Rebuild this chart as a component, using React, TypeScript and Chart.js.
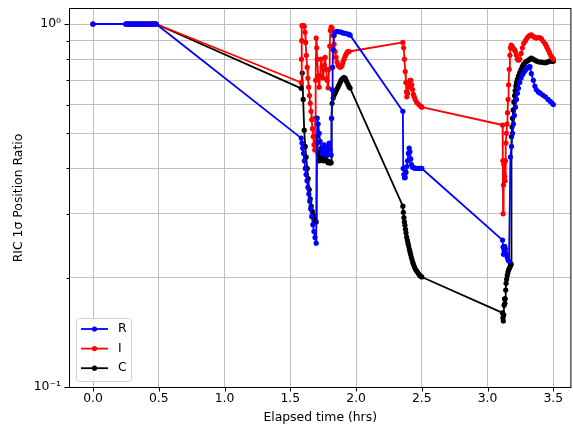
import { useEffect, useRef } from "react";
import { Chart, registerables } from "chart.js";

Chart.register(...registerables);

const FONT = "DejaVu Sans";

const xTickValues = [0, 0.5, 1.0, 1.5, 2.0, 2.5, 3.0, 3.5];
const yTickValues = [0.1, 0.2, 0.3, 0.4, 0.5, 0.6, 0.7, 0.8, 0.9, 1.0];
const yMajorLabels: Record<string, string> = { "0.1": "10⁻¹", "1": "10⁰" };

const seriesNames = ["R", "I", "C"];
const seriesColors = ["#0000ff", "#ff0000", "#000000"];

const xLabel = "Elapsed time (hrs)";
const yLabel = "RIC 1σ Position Ratio";

// shared start: all three ratios are 1.0 early on
const commonStart: number[][] = [
  [0, 1], [0.25, 1], [0.26, 1], [0.27, 1], [0.28, 1], [0.29, 1], [0.3, 1], [0.31, 1],
  [0.32, 1], [0.33, 1], [0.34, 1], [0.35, 1], [0.36, 1], [0.37, 1], [0.38, 1], [0.39, 1],
  [0.4, 1], [0.41, 1], [0.42, 1], [0.43, 1], [0.44, 1], [0.45, 1], [0.46, 1], [0.47, 1], [0.48, 1],
];

const seriesR: number[][] = [
  [1.583, 0.485], [1.589, 0.47], [1.595, 0.455], [1.601, 0.44], [1.607, 0.42], [1.614, 0.4],
  [1.62, 0.385], [1.627, 0.37], [1.634, 0.355], [1.641, 0.34], [1.648, 0.325], [1.655, 0.31],
  [1.663, 0.295], [1.672, 0.28], [1.68, 0.268], [1.688, 0.258], [1.697, 0.249],
  [1.705, 0.551], [1.712, 0.53], [1.72, 0.5], [1.727, 0.475], [1.735, 0.455], [1.742, 0.44],
  [1.75, 0.45], [1.758, 0.465], [1.765, 0.45], [1.773, 0.435], [1.78, 0.44], [1.788, 0.46],
  [1.795, 0.47], [1.803, 0.45], [1.811, 0.436], [1.814, 0.55], [1.818, 0.66], [1.822, 0.76],
  [1.826, 0.85], [1.833, 0.93], [1.841, 0.95], [1.856, 0.955], [1.871, 0.952], [1.886, 0.95],
  [1.901, 0.945], [1.916, 0.942], [1.932, 0.94], [1.947, 0.936], [1.955, 0.932],
  [2.356, 0.575], [2.359, 0.4], [2.364, 0.385], [2.369, 0.377], [2.374, 0.378], [2.38, 0.39],
  [2.386, 0.405], [2.392, 0.42], [2.398, 0.44], [2.404, 0.455], [2.41, 0.445], [2.416, 0.425],
  [2.422, 0.41], [2.43, 0.403], [2.44, 0.402], [2.45, 0.4], [2.462, 0.4], [2.477, 0.4],
  [2.492, 0.4], [2.5, 0.4],
  [3.114, 0.254], [3.118, 0.243], [3.121, 0.232], [3.126, 0.238], [3.131, 0.244], [3.136, 0.24],
  [3.142, 0.233], [3.149, 0.228], [3.156, 0.224], [3.163, 0.222],
  [3.174, 0.43], [3.182, 0.46], [3.19, 0.5], [3.197, 0.53], [3.204, 0.56], [3.212, 0.59],
  [3.22, 0.62], [3.227, 0.645], [3.235, 0.665], [3.245, 0.69], [3.255, 0.71], [3.265, 0.725],
  [3.275, 0.735], [3.285, 0.745], [3.295, 0.752], [3.305, 0.758], [3.315, 0.762], [3.323, 0.763],
  [3.333, 0.73], [3.348, 0.7], [3.36, 0.675], [3.37, 0.66], [3.386, 0.65], [3.4, 0.645],
  [3.42, 0.637], [3.44, 0.63], [3.46, 0.62], [3.477, 0.612], [3.49, 0.606], [3.5, 0.6],
];

const seriesI: number[][] = [
  [1.583, 0.69], [1.585, 0.8], [1.587, 0.9], [1.589, 0.99], [1.595, 0.99], [1.601, 0.99],
  [1.606, 0.985], [1.612, 0.95], [1.617, 0.89], [1.622, 0.82], [1.628, 0.76], [1.634, 0.71],
  [1.64, 0.67], [1.646, 0.635], [1.652, 0.605], [1.658, 0.575], [1.663, 0.545], [1.668, 0.515],
  [1.674, 0.49], [1.68, 0.465], [1.686, 0.45], [1.689, 0.55], [1.693, 0.7], [1.697, 0.915],
  [1.701, 0.86], [1.705, 0.8], [1.712, 0.72], [1.72, 0.67], [1.727, 0.72], [1.735, 0.8],
  [1.742, 0.76], [1.75, 0.71], [1.758, 0.77], [1.765, 0.81], [1.773, 0.75], [1.78, 0.7],
  [1.788, 0.667], [1.795, 0.75], [1.8, 0.87], [1.805, 0.96], [1.811, 0.98], [1.818, 0.975],
  [1.826, 0.93], [1.833, 0.88], [1.841, 0.84], [1.848, 0.81], [1.856, 0.785], [1.864, 0.77],
  [1.871, 0.765], [1.879, 0.76], [1.886, 0.762], [1.894, 0.77], [1.901, 0.785], [1.909, 0.8],
  [1.917, 0.815], [1.924, 0.825], [1.932, 0.835], [1.94, 0.84], [1.947, 0.84],
  [2.356, 0.89], [2.362, 0.86], [2.368, 0.8], [2.374, 0.74], [2.379, 0.69], [2.383, 0.65],
  [2.386, 0.63], [2.392, 0.645], [2.398, 0.67], [2.404, 0.69], [2.41, 0.7], [2.417, 0.7],
  [2.424, 0.68], [2.43, 0.66], [2.436, 0.64], [2.443, 0.63], [2.45, 0.62], [2.462, 0.608],
  [2.477, 0.6], [2.492, 0.594], [2.5, 0.59],
  [3.114, 0.527], [3.116, 0.42], [3.118, 0.3], [3.121, 0.36], [3.124, 0.41], [3.127, 0.42],
  [3.13, 0.38], [3.133, 0.37], [3.136, 0.42], [3.14, 0.47], [3.144, 0.5], [3.148, 0.53],
  [3.152, 0.57], [3.156, 0.62], [3.16, 0.68], [3.165, 0.75], [3.17, 0.82], [3.174, 0.86],
  [3.18, 0.875], [3.186, 0.87], [3.19, 0.86], [3.197, 0.855], [3.205, 0.85], [3.212, 0.84],
  [3.22, 0.82], [3.227, 0.8], [3.235, 0.795], [3.245, 0.8], [3.255, 0.83], [3.265, 0.86],
  [3.275, 0.885], [3.288, 0.9], [3.3, 0.915], [3.311, 0.925], [3.322, 0.93], [3.333, 0.933],
  [3.345, 0.925], [3.356, 0.92], [3.371, 0.915], [3.385, 0.918], [3.4, 0.916], [3.41, 0.91],
  [3.425, 0.895], [3.44, 0.88], [3.45, 0.865], [3.46, 0.85], [3.47, 0.835], [3.48, 0.82],
  [3.49, 0.81], [3.5, 0.8],
];

const seriesC: number[][] = [
  [1.583, 0.665], [1.591, 0.733], [1.598, 0.62], [1.606, 0.51], [1.614, 0.46], [1.621, 0.43],
  [1.629, 0.4], [1.636, 0.375], [1.644, 0.35], [1.652, 0.33], [1.659, 0.315], [1.667, 0.305],
  [1.674, 0.298], [1.682, 0.292], [1.69, 0.288], [1.697, 0.285],
  [1.7, 0.49], [1.705, 0.47], [1.712, 0.44], [1.72, 0.42], [1.727, 0.43], [1.735, 0.45],
  [1.742, 0.43], [1.75, 0.42], [1.758, 0.425], [1.765, 0.44], [1.773, 0.43], [1.78, 0.418],
  [1.788, 0.415], [1.795, 0.418], [1.803, 0.414], [1.811, 0.415],
  [1.814, 0.55], [1.818, 0.605], [1.826, 0.625], [1.833, 0.637], [1.841, 0.645], [1.848, 0.655],
  [1.856, 0.663], [1.864, 0.672], [1.871, 0.68], [1.879, 0.69], [1.886, 0.7], [1.894, 0.705],
  [1.901, 0.71], [1.909, 0.712], [1.917, 0.71], [1.924, 0.7], [1.932, 0.69], [1.94, 0.68],
  [1.947, 0.672], [1.955, 0.666],
  [2.356, 0.315], [2.36, 0.303], [2.364, 0.293], [2.368, 0.285], [2.372, 0.279], [2.376, 0.272],
  [2.38, 0.266], [2.385, 0.259], [2.39, 0.254], [2.395, 0.249], [2.4, 0.245], [2.405, 0.24],
  [2.41, 0.236], [2.415, 0.232], [2.42, 0.228], [2.426, 0.224], [2.432, 0.22], [2.438, 0.217],
  [2.445, 0.214], [2.452, 0.211], [2.46, 0.209], [2.468, 0.207], [2.476, 0.205], [2.484, 0.203],
  [2.492, 0.202], [2.5, 0.201],
  [3.114, 0.16], [3.117, 0.155], [3.12, 0.152], [3.123, 0.158], [3.126, 0.168], [3.129, 0.175],
  [3.132, 0.17], [3.135, 0.175], [3.138, 0.185], [3.141, 0.193], [3.145, 0.198], [3.15, 0.203],
  [3.155, 0.207], [3.16, 0.21], [3.165, 0.212], [3.17, 0.214], [3.175, 0.216], [3.18, 0.218],
  [3.182, 0.49], [3.186, 0.52], [3.19, 0.55], [3.195, 0.58], [3.2, 0.61], [3.205, 0.635],
  [3.21, 0.655], [3.215, 0.675], [3.22, 0.69], [3.227, 0.705], [3.235, 0.72], [3.245, 0.735],
  [3.255, 0.75], [3.265, 0.765], [3.275, 0.775], [3.288, 0.785], [3.3, 0.79], [3.311, 0.795],
  [3.322, 0.8], [3.333, 0.805], [3.345, 0.8], [3.36, 0.795], [3.375, 0.79], [3.39, 0.786],
  [3.41, 0.785], [3.425, 0.783], [3.44, 0.782], [3.455, 0.785], [3.47, 0.79], [3.485, 0.79],
  [3.5, 0.79],
];

const allSeries = [seriesR, seriesI, seriesC];

const framePlugin = {
  id: "mplFrame",
  afterDatasetsDraw(chart: any) {
    const { ctx, chartArea } = chart;
    const { left, right, top, bottom } = chartArea;
    const ys = chart.scales.y;
    const xs = chart.scales.x;
    ctx.save();
    ctx.strokeStyle = "#000";
    ctx.lineWidth = 1;
    ctx.strokeRect(left - 0.5, top - 0.5, right - left + 1, bottom - top + 1);
    ctx.beginPath();
    for (const v of yTickValues) {
      const p = Math.round(ys.getPixelForValue(v)) + 0.5;
      const len = v === 1 || v === 0.1 ? 4.5 : 2.5;
      ctx.moveTo(left - 1, p);
      ctx.lineTo(left - 1 - len, p);
    }
    for (const v of xTickValues) {
      const p = Math.round(xs.getPixelForValue(v)) + 0.5;
      ctx.moveTo(p, bottom);
      ctx.lineTo(p, bottom + 4.5);
    }
    ctx.stroke();
    ctx.restore();
  },
  afterDraw(chart: any) {
    const { ctx } = chart;
    ctx.save();
    const bx = 76.5, by = 318.5, bw = 55, bh = 63, r = 3;
    ctx.beginPath();
    ctx.moveTo(bx + r, by);
    ctx.lineTo(bx + bw - r, by);
    ctx.quadraticCurveTo(bx + bw, by, bx + bw, by + r);
    ctx.lineTo(bx + bw, by + bh - r);
    ctx.quadraticCurveTo(bx + bw, by + bh, bx + bw - r, by + bh);
    ctx.lineTo(bx + r, by + bh);
    ctx.quadraticCurveTo(bx, by + bh, bx, by + bh - r);
    ctx.lineTo(bx, by + r);
    ctx.quadraticCurveTo(bx, by, bx + r, by);
    ctx.closePath();
    ctx.fillStyle = "rgba(255,255,255,0.8)";
    ctx.fill();
    ctx.strokeStyle = "#d0d0d0";
    ctx.lineWidth = 1;
    ctx.stroke();
    chart.data.datasets.forEach((ds: any, i: number) => {
      const yy = 329 + i * 19.6;
      ctx.strokeStyle = ds.borderColor;
      ctx.lineWidth = 1.8;
      ctx.beginPath();
      ctx.moveTo(81, yy);
      ctx.lineTo(108, yy);
      ctx.stroke();
      ctx.fillStyle = ds.borderColor;
      ctx.beginPath();
      ctx.arc(94.5, yy, 2.6, 0, Math.PI * 2);
      ctx.fill();
      ctx.fillStyle = "#000";
      ctx.font = `12.4px "${FONT}"`;
      ctx.textBaseline = "middle";
      ctx.textAlign = "left";
      ctx.fillText(ds.label, 118, yy);
    });
    ctx.restore();
  },
};

export default function App() {
  const ref = useRef<HTMLCanvasElement>(null);
  useEffect(() => {
    document.body.style.margin = "0";
    const datasets = seriesNames.map((name, i) => ({
      label: name,
      data: commonStart.concat(allSeries[i]).map((p) => ({ x: p[0], y: p[1] })),
      borderColor: seriesColors[i],
      backgroundColor: seriesColors[i],
      pointBackgroundColor: seriesColors[i],
      pointBorderWidth: 0,
      pointRadius: 2.6,
      pointHoverRadius: 2.6,
      borderWidth: 1.8,
      borderJoinStyle: "round" as const,
      tension: 0,
      fill: false,
    }));
    const chart = new Chart(ref.current as HTMLCanvasElement, {
      type: "line",
      data: { datasets },
      plugins: [framePlugin],
      options: {
        animation: false,
        responsive: false,
        devicePixelRatio: 1,
        events: [],
        layout: { padding: { top: 9, right: 1, bottom: 0, left: 0 } },
        plugins: { legend: { display: false }, tooltip: { enabled: false } },
        scales: {
          x: {
            type: "linear",
            min: -0.175,
            max: 3.63,
            bounds: "data",
            afterBuildTicks: (scale: any) => {
              scale.ticks = xTickValues.map((v) => ({ value: v }));
            },
            afterFit: (scale: any) => {
              scale.height = 43;
              scale.paddingLeft = 0;
              scale.paddingRight = 0;
            },
            border: { display: false },
            grid: { color: "#b0b0b0", lineWidth: 0.8, drawTicks: false },
            ticks: {
              color: "#000",
              padding: 4,
              autoSkip: false,
              maxRotation: 0,
              font: { family: FONT, size: 12.4 },
              callback: (v: any) => Number(v).toFixed(1),
            },
            title: {
              display: true,
              text: xLabel,
              color: "#000",
              font: { family: FONT, size: 12.4 },
              padding: { top: 0, bottom: 5 },
            },
          },
          y: {
            type: "logarithmic",
            min: 0.1,
            max: 1.1,
            bounds: "data",
            afterBuildTicks: (scale: any) => {
              scale.ticks = yTickValues.map((v) => ({ value: v }));
            },
            afterFit: (scale: any) => {
              scale.width = 70;
              scale.paddingTop = 0;
              scale.paddingBottom = 0;
            },
            border: { display: false },
            grid: { color: "#b0b0b0", lineWidth: 0.8, drawTicks: false },
            ticks: {
              color: "#000",
              padding: 9,
              autoSkip: false,
              font: { family: FONT, size: 12.4 },
              callback: (v: any) => yMajorLabels[String(Number(v))] ?? "",
            },
            title: {
              display: true,
              text: yLabel,
              color: "#000",
              font: { family: FONT, size: 12.4 },
              padding: { top: 11, bottom: 0 },
            },
          },
        },
      },
    });
    return () => chart.destroy();
  }, []);
  return (
    <div style={{ width: 573, height: 430 }}>
      <canvas ref={ref} width={573} height={430} style={{ display: "block", width: 573, height: 430 }} />
    </div>
  );
}
